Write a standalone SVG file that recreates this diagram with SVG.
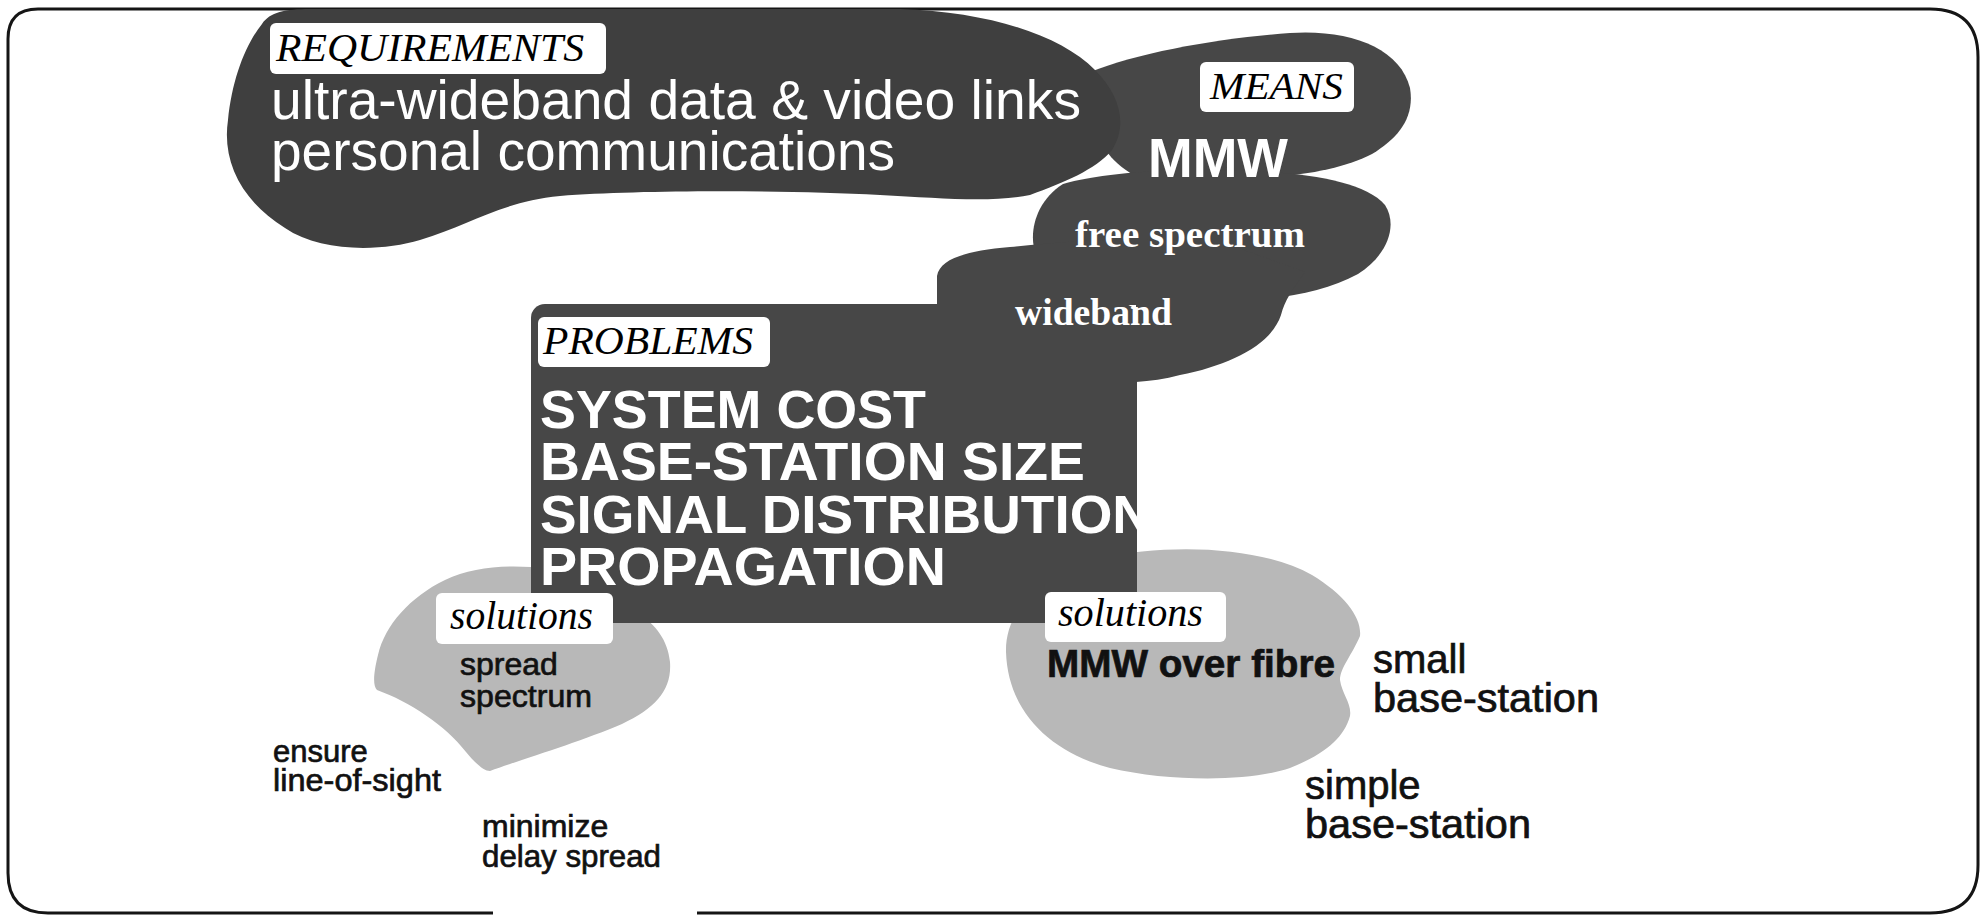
<svg xmlns="http://www.w3.org/2000/svg" width="1984" height="918" viewBox="0 0 1984 918">
<style>
.frame{fill:none;stroke:#151515;stroke-width:3}
.dark{fill:#3f3f3f}
.mid{fill:#474747}
.light{fill:#b8b8b8}
.lbl{fill:#fff}
.it{font-family:"Liberation Serif",serif;font-style:italic;fill:#000}
.wsans{font-family:"Liberation Sans",Arial,sans-serif;fill:#fff}
.wserif{font-family:"Liberation Serif",serif;font-weight:bold;fill:#fff}
.bsans{font-family:"Liberation Sans",Arial,sans-serif;fill:#111;stroke:#111;stroke-width:0.7}
</style>
<defs>
<clipPath id="probClip"><rect x="531" y="304" width="606" height="319" rx="14"/></clipPath>
</defs>
<rect width="1984" height="918" fill="#fff"/>
<path class="frame" d="M 38 9 H 1930 Q 1978 9 1978 57 V 865 Q 1978 913 1930 913 H 697 M 493 913 H 48 Q 8 913 8 873 V 39 Q 8 9 38 9"/>

<g id="solutions-left">
<path class="light" d="M 531 567 C 500 565 470 568 445 580 C 410 597 385 625 378 655 C 373 675 373 686 377 690 C 410 702 445 725 466 752 C 476 764 484 771 490 771 C 520 760 580 742 622 724 C 656 708 672 690 670 662 C 668 640 655 624 640 615 L 640 560 L 531 560 Z"/>
</g>
<g id="solutions-right">
<path class="light" d="M 1006 652 C 1005 610 1040 575 1100 558 C 1170 543 1260 546 1312 575 C 1345 595 1362 618 1360 636 C 1352 655 1340 668 1340 680 C 1342 694 1352 704 1350 716 C 1344 738 1325 754 1290 768 C 1250 782 1170 782 1110 768 C 1050 752 1008 712 1006 652 Z"/>
</g>

<g id="problems">
<rect class="mid" x="531" y="304" width="606" height="319" rx="14"/>
<rect class="lbl" x="538" y="317" width="232" height="50" rx="6"/>
<text class="it" x="543" y="354" font-size="40" textLength="210" lengthAdjust="spacingAndGlyphs">PROBLEMS</text>
<g clip-path="url(#probClip)" class="wsans" font-weight="bold" font-size="54">
<text x="540" y="428" textLength="386" lengthAdjust="spacingAndGlyphs">SYSTEM COST</text>
<text x="540" y="480" textLength="545" lengthAdjust="spacingAndGlyphs">BASE-STATION SIZE</text>
<text x="540" y="533" textLength="612" lengthAdjust="spacingAndGlyphs">SIGNAL DISTRIBUTION</text>
<text x="540" y="585" textLength="406" lengthAdjust="spacingAndGlyphs">PROPAGATION</text>
</g>
</g>

<g id="means">
<path class="mid" d="M 1090 72 C 1140 52 1220 38 1290 33 C 1350 29 1400 48 1410 88 C 1415 118 1398 138 1372 154 C 1345 168 1305 176 1255 178 L 1135 176 C 1122 168 1112 160 1106 150 Z"/>
<path class="mid" d="M 1063 184 C 1090 176 1140 170 1200 170 C 1280 170 1360 176 1385 205 C 1398 225 1388 255 1358 274 C 1328 290 1290 298 1250 300 C 1170 302 1065 292 1042 266 C 1026 246 1030 205 1063 184 Z"/>
<path class="mid" d="M 937 305 L 937 276 C 940 259 965 251 1010 247 C 1080 240 1150 236 1230 245 L 1305 272 C 1292 290 1285 300 1281 315 C 1271 345 1230 365 1180 375 C 1165 379 1150 381 1136 382 L 1136 305 Z"/>
<rect class="lbl" x="1200" y="62" width="154" height="50" rx="6"/>
<text class="it" x="1210" y="99" font-size="38" textLength="133" lengthAdjust="spacingAndGlyphs">MEANS</text>
<text class="wsans" x="1148" y="177" font-size="55" font-weight="bold" textLength="140" lengthAdjust="spacingAndGlyphs">MMW</text>
<text class="wserif" x="1075" y="247" font-size="38" textLength="230" lengthAdjust="spacingAndGlyphs">free spectrum</text>
<text class="wserif" x="1015" y="325" font-size="38" textLength="157" lengthAdjust="spacingAndGlyphs">wideband</text>
</g>

<g id="requirements">
<path class="dark" d="M 262 24 C 270 12 285 9 310 9 L 900 9 C 990 12 1060 35 1095 70 C 1120 95 1128 125 1112 150 C 1095 170 1065 182 1030 195 C 990 203 940 198 880 195 C 780 190 640 190 560 196 C 500 202 470 225 420 240 C 380 252 320 252 285 228 C 240 200 222 160 228 120 C 232 80 245 45 262 24 Z"/>
<rect class="lbl" x="270" y="23" width="336" height="51" rx="6"/>
<text class="it" x="276" y="61" font-size="41" textLength="308" lengthAdjust="spacingAndGlyphs">REQUIREMENTS</text>
<text class="wsans" x="271" y="119" font-size="55" textLength="810" lengthAdjust="spacingAndGlyphs">ultra-wideband data &amp; video links</text>
<text class="wsans" x="271" y="170" font-size="55" textLength="624" lengthAdjust="spacingAndGlyphs">personal communications</text>
</g>

<g id="solutions-left-text">
<rect class="lbl" x="436" y="593" width="177" height="51" rx="6"/>
<text class="it" x="450" y="629" font-size="40" textLength="143" lengthAdjust="spacingAndGlyphs">solutions</text>
<text class="bsans" x="460" y="675" font-size="32">spread</text>
<text class="bsans" x="460" y="707" font-size="32" textLength="132" lengthAdjust="spacingAndGlyphs">spectrum</text>
</g>
<g id="ensure-los">
<text class="bsans" x="273" y="762" font-size="31">ensure</text>
<text class="bsans" x="273" y="791" font-size="32" textLength="168" lengthAdjust="spacingAndGlyphs">line-of-sight</text>
</g>
<g id="minimize-delay">
<text class="bsans" x="482" y="837" font-size="32">minimize</text>
<text class="bsans" x="482" y="867" font-size="32" textLength="179" lengthAdjust="spacingAndGlyphs">delay spread</text>
</g>

<g id="solutions-right-text">
<rect class="lbl" x="1045" y="592" width="181" height="50" rx="6"/>
<text class="it" x="1058" y="626" font-size="40" textLength="145" lengthAdjust="spacingAndGlyphs">solutions</text>
<text class="bsans" x="1047" y="677" font-size="39" font-weight="bold" stroke-width="0" textLength="288" lengthAdjust="spacingAndGlyphs">MMW over fibre</text>
</g>
<g id="small-bs">
<text class="bsans" x="1373" y="673" font-size="40">small</text>
<text class="bsans" x="1373" y="712" font-size="40" textLength="226" lengthAdjust="spacingAndGlyphs">base-station</text>
</g>
<g id="simple-bs">
<text class="bsans" x="1305" y="799" font-size="40">simple</text>
<text class="bsans" x="1305" y="838" font-size="40" textLength="226" lengthAdjust="spacingAndGlyphs">base-station</text>
</g>

<g id="connectors"></g>
</svg>
